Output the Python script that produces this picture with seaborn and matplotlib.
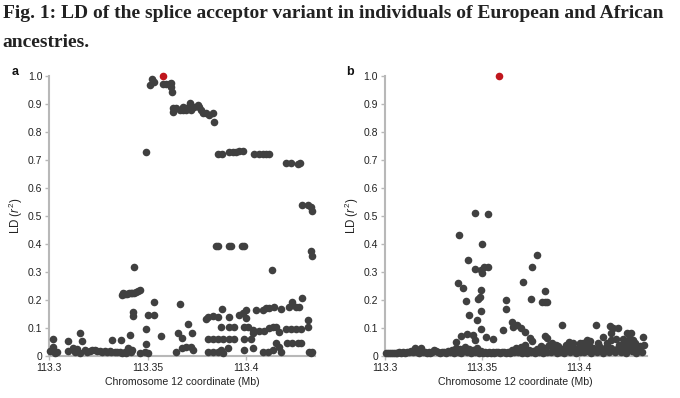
import matplotlib
matplotlib.use("Agg")
import matplotlib.pyplot as plt
import seaborn as sns
import pandas as pd

# ---------------- data ----------------
# panel a (European ancestry)
eur_pos = [
    113.3003, 113.3012, 113.3020, 113.3020, 113.3029, 113.3037,
    113.3096, 113.3096, 113.3122, 113.3139, 113.3155, 113.3164, 113.3155, 113.3181,
    113.3206, 113.3231, 113.3257, 113.3282, 113.3307, 113.3321, 113.3333, 113.3358,
    113.3367, 113.3383, 113.3400, 113.3409, 113.3417,
    113.3130, 113.3190, 113.3215, 113.3245, 113.3270, 113.3295, 113.3315, 113.3345,
    113.3370, 113.3390, 113.3405, 113.3420,
    113.3368, 113.3377, 113.3386, 113.3395, 113.3404, 113.3413, 113.3422, 113.3431,
    113.3440, 113.3450, 113.3462,
    113.3431, 113.3426, 113.3424,
    113.3459, 113.3485, 113.3493, 113.3493, 113.3502,
    113.3502, 113.3530, 113.3530, 113.3568,
    113.3645, 113.3654, 113.3666, 113.3676, 113.3704, 113.3676, 113.3696, 113.3721,
    113.3726, 113.3730,
    113.3797, 113.3806, 113.3831, 113.3856, 113.3873, 113.3882, 113.3907,
    113.3806, 113.3831, 113.3856, 113.3878, 113.3916,
    113.3806, 113.3831, 113.3856, 113.3882, 113.3916, 113.3941,
    113.3873, 113.3916, 113.3941,
    113.3848, 113.3858, 113.3912, 113.3925, 113.3980, 113.3990,
    113.3966, 113.3983, 113.4000,
    113.3992, 113.4008, 113.3992, 113.4025, 113.3990, 113.4034, 113.4000,
    113.4034, 113.4034,
    113.4051, 113.4084, 113.4101, 113.4118, 113.4144,
    113.4068, 113.4093, 113.4118, 113.4135, 113.4152, 113.4169,
    113.4084, 113.4110, 113.4135, 113.4152, 113.4169, 113.4177,
    113.4132, 113.4177,
    113.4203, 113.4228, 113.4253, 113.4279,
    113.4211, 113.4236, 113.4262, 113.4279,
    113.4236, 113.4220, 113.4253, 113.4270, 113.4287,
    113.4313, 113.4313, 113.4321, 113.4329, 113.4338,
    113.4329, 113.4334,
    # upper part
    113.3493,
    113.3510, 113.3524, 113.3530,
    113.3577, 113.3594, 113.3611, 113.3619, 113.3619, 113.3625,
    113.3628, 113.3628, 113.3645, 113.3662, 113.3679, 113.3696, 113.3713, 113.3721,
    113.3738, 113.3755, 113.3763, 113.3772, 113.3780, 113.3797, 113.3814, 113.3831,
    113.3839, 113.3696, 113.3679,
    113.3856, 113.3878, 113.3915, 113.3932, 113.3949, 113.3966, 113.3983,
    113.4042, 113.4068, 113.4084, 113.4101, 113.4118,
    113.4203, 113.4228, 113.4262, 113.4275,
    113.4287, 113.4313, 113.4329, 113.4338,
]
eur_r2 = [
    0.018, 0.021, 0.060, 0.033, 0.010, 0.015,
    0.018, 0.054, 0.027, 0.024, 0.081, 0.054, 0.010, 0.021,
    0.018, 0.021, 0.018, 0.018, 0.018, 0.057, 0.015, 0.015,
    0.057, 0.015, 0.030, 0.075, 0.015,
    0.015, 0.015, 0.020, 0.017, 0.015, 0.016, 0.014, 0.013,
    0.012, 0.012, 0.018, 0.022,
    0.218, 0.224, 0.221, 0.222, 0.223, 0.224, 0.225, 0.225,
    0.228, 0.232, 0.236,
    0.316, 0.158, 0.143,
    0.012, 0.015, 0.095, 0.043, 0.010,
    0.146, 0.146, 0.194, 0.070,
    0.015, 0.083, 0.186, 0.063, 0.113, 0.027, 0.033, 0.031,
    0.083, 0.021,
    0.132, 0.015, 0.015, 0.015, 0.021, 0.010, 0.027,
    0.140, 0.143, 0.140, 0.167, 0.140,
    0.060, 0.060, 0.061, 0.061, 0.061, 0.061,
    0.102, 0.102, 0.102,
    0.393, 0.393, 0.393, 0.393, 0.393, 0.393,
    0.146, 0.152, 0.164,
    0.102, 0.102, 0.061, 0.061, 0.021, 0.030, 0.135,
    0.093, 0.081,
    0.164, 0.164, 0.170, 0.170, 0.174,
    0.090, 0.090, 0.100, 0.105, 0.105, 0.087,
    0.015, 0.015, 0.021, 0.045, 0.033, 0.015,
    0.307, 0.167,
    0.098, 0.098, 0.098, 0.098,
    0.045, 0.045, 0.045, 0.045,
    0.194, 0.174, 0.174, 0.174, 0.206,
    0.129, 0.105, 0.015, 0.010, 0.015,
    0.376, 0.357,
    0.726,
    0.967, 0.987, 0.979,
    0.970, 0.970, 0.970, 0.973, 0.958, 0.943,
    0.883, 0.869, 0.883, 0.877, 0.877, 0.877, 0.904, 0.877,
    0.888, 0.895, 0.888, 0.877, 0.865, 0.865, 0.860, 0.865,
    0.833, 0.883, 0.887,
    0.719, 0.722, 0.729, 0.729, 0.726, 0.731, 0.732,
    0.720, 0.722, 0.722, 0.722, 0.722,
    0.690, 0.690, 0.684, 0.690,
    0.540, 0.538, 0.532, 0.518,
]

# panel b (African ancestry)
afr_pos = [
    113.3464, 113.3534,
    113.3383, 113.3503,
    113.3430, 113.3464, 113.3498, 113.3510, 113.3533,
    113.3378, 113.3404, 113.3418, 113.3433, 113.3473, 113.3481, 113.3490, 113.3498,
    113.3498, 113.3498, 113.3503,
    113.3369, 113.3395, 113.3421, 113.3455, 113.3464, 113.3524, 113.3558,
    113.3610, 113.3627, 113.3624, 113.3653, 113.3662, 113.3679, 113.3704, 113.3722,
    113.3747, 113.3761, 113.3704,
    113.3710, 113.3761, 113.3782, 113.3751, 113.3808, 113.3825, 113.3837, 113.3825,
    113.3825, 113.3837,
    113.3911, 113.4088,
    113.4160, 113.4177, 113.4203, 113.4165, 113.4246, 113.4271, 113.4280, 113.4332,
    113.4335, 113.4168,
    113.4125, 113.4040, 113.4005, 113.3971, 113.3936,
    113.3722, 113.3860, 113.3880, 113.3950, 113.4020, 113.4060, 113.4100, 113.4190,
    113.4230, 113.4260, 113.4290,
    # baseline
    113.3005, 113.3015, 113.3025, 113.3035, 113.3045, 113.3055, 113.3065, 113.3075,
    113.3085, 113.3095, 113.3105, 113.3115, 113.3125, 113.3135, 113.3145, 113.3155,
    113.3165, 113.3175, 113.3185, 113.3195, 113.3205, 113.3215, 113.3225, 113.3235,
    113.3245, 113.3255, 113.3265, 113.3275, 113.3285, 113.3295, 113.3305, 113.3315,
    113.3325, 113.3335, 113.3345, 113.3355, 113.3365, 113.3375, 113.3385, 113.3395,
    113.3405, 113.3415, 113.3425, 113.3435, 113.3445, 113.3455, 113.3465, 113.3475,
    113.3485, 113.3495, 113.3505, 113.3515, 113.3525, 113.3535, 113.3545, 113.3555,
    113.3565, 113.3575, 113.3585, 113.3595, 113.3605, 113.3615, 113.3625, 113.3635,
    113.3645, 113.3655, 113.3665, 113.3675, 113.3685, 113.3695, 113.3705, 113.3715,
    113.3725, 113.3735, 113.3745, 113.3755, 113.3765, 113.3775, 113.3785, 113.3795,
    113.3805, 113.3815, 113.3825, 113.3835, 113.3845, 113.3855, 113.3865, 113.3875,
    113.3885, 113.3895, 113.3905, 113.3915, 113.3925, 113.3935, 113.3945, 113.3955,
    113.3965, 113.3975, 113.3985, 113.3995, 113.4005, 113.4015, 113.4025, 113.4035,
    113.4045, 113.4055, 113.4065, 113.4075, 113.4085, 113.4095, 113.4105, 113.4115,
    113.4125, 113.4135, 113.4145, 113.4155, 113.4165, 113.4175, 113.4185, 113.4195,
    113.4205, 113.4215, 113.4225, 113.4235, 113.4245, 113.4255, 113.4265, 113.4275,
    113.4285, 113.4295, 113.4305, 113.4315, 113.4325,
]
afr_r2 = [
    0.511, 0.506,
    0.432, 0.400,
    0.343, 0.310, 0.305, 0.317, 0.317,
    0.260, 0.242, 0.196, 0.146, 0.129, 0.205, 0.212, 0.236,
    0.162, 0.095, 0.295,
    0.051, 0.071, 0.077, 0.075, 0.057, 0.069, 0.061,
    0.093, 0.200, 0.167, 0.123, 0.105, 0.110, 0.099, 0.087,
    0.063, 0.055, 0.033,
    0.263, 0.319, 0.361, 0.204, 0.194, 0.194, 0.194, 0.233,
    0.071, 0.063,
    0.111, 0.111,
    0.107, 0.099, 0.099, 0.081, 0.081, 0.081, 0.057, 0.069,
    0.038, 0.057,
    0.067, 0.057, 0.045, 0.045, 0.040,
    0.040, 0.045, 0.040, 0.050, 0.048, 0.055, 0.045, 0.062,
    0.060, 0.060, 0.045,
    0.010, 0.012, 0.009, 0.011, 0.010, 0.012, 0.009, 0.013,
    0.011, 0.014, 0.012, 0.016, 0.013, 0.018, 0.015, 0.030,
    0.014, 0.012, 0.028, 0.015, 0.013, 0.011, 0.014, 0.012,
    0.016, 0.022, 0.018, 0.013, 0.011, 0.015, 0.013, 0.012,
    0.019, 0.014, 0.022, 0.012, 0.030, 0.015, 0.026, 0.010,
    0.018, 0.033, 0.013, 0.025, 0.011, 0.020, 0.014, 0.030,
    0.012, 0.018, 0.010, 0.016, 0.012, 0.014, 0.011, 0.015,
    0.012, 0.016, 0.013, 0.011, 0.014, 0.015, 0.012, 0.013,
    0.011, 0.020, 0.014, 0.030, 0.013, 0.018, 0.011, 0.024,
    0.015, 0.012, 0.020, 0.013, 0.017, 0.012, 0.026, 0.014,
    0.035, 0.012, 0.028, 0.015, 0.040, 0.013, 0.030, 0.018,
    0.012, 0.035, 0.015, 0.025, 0.012, 0.020, 0.030, 0.014,
    0.038, 0.018, 0.012, 0.028, 0.015, 0.035, 0.013, 0.025,
    0.018, 0.040, 0.012, 0.030, 0.020, 0.014, 0.035, 0.025,
    0.012, 0.030, 0.045, 0.015, 0.030, 0.020, 0.013, 0.025,
    0.040, 0.015, 0.030, 0.045, 0.012, 0.028, 0.045, 0.018,
    0.030, 0.012, 0.020, 0.035, 0.015,
]

# splice acceptor variant (index SNP)
lead_pos = [113.3577, 113.3586]
lead_r2 = [1.0, 1.0]

x_ticks = [113.3, 113.35, 113.4]
x_tick_labels = ["113.3", "113.35", "113.4"]
y_ticks = [0, 0.1, 0.2, 0.3, 0.4, 0.5, 0.6, 0.7, 0.8, 0.9, 1.0]
y_tick_labels = ["0", "0.1", "0.2", "0.3", "0.4", "0.5", "0.6", "0.7", "0.8", "0.9", "1.0"]
panel_letters = ["a", "b"]
title_lines = ["Fig. 1: LD of the splice acceptor variant in individuals of European and African",
               "ancestries."]

# ---------------- style ----------------
sns.set_theme(style="white")
plt.rcParams["font.family"] = ["Liberation Sans", "DejaVu Sans"]
plt.rcParams["mathtext.fontset"] = "custom"
plt.rcParams["mathtext.rm"] = "Liberation Sans"
plt.rcParams["mathtext.it"] = "Liberation Sans:italic"

DOT = "#404040"
RED = "#c0161d"
SPINE = "#b8b8b8"

fig = plt.figure(figsize=(6.8, 3.98), dpi=100)
ax_a = fig.add_axes([0.0725, 0.1055, 0.3905, 0.7045])
ax_b = fig.add_axes([0.566, 0.1055, 0.385, 0.7045])

df_a = pd.DataFrame({"pos": eur_pos, "r2": eur_r2})
df_b = pd.DataFrame({"pos": afr_pos, "r2": afr_r2})

for ax, df, lp, lr in [(ax_a, df_a, lead_pos[0], lead_r2[0]),
                       (ax_b, df_b, lead_pos[1], lead_r2[1])]:
    sns.scatterplot(data=df, x="pos", y="r2", ax=ax, color=DOT, s=30,
                    linewidth=0, clip_on=False, zorder=3)
    sns.scatterplot(x=[lp], y=[lr], ax=ax, color=RED, s=30, linewidth=0,
                    clip_on=False, zorder=4)
    ax.set_xlim(113.3, 113.435)
    ax.set_ylim(0, 1.0)
    ax.set_xticks(x_ticks)
    ax.set_xticklabels(x_tick_labels)
    ax.set_yticks(y_ticks)
    ax.set_yticklabels(y_tick_labels)
    for side in ["top", "right"]:
        ax.spines[side].set_visible(False)
    for side in ["left", "bottom"]:
        ax.spines[side].set_color(SPINE)
        ax.spines[side].set_linewidth(1.5)
    ax.tick_params(axis="both", which="both", length=3, width=1, color=SPINE,
                   labelsize=7.5, labelcolor="#222222", pad=2, left=True, bottom=True)
    ax.set_xlabel("Chromosome 12 coordinate (Mb)", fontsize=7.6, color="#222222", labelpad=3)
    ax.set_ylabel(r"LD ($\mathit{r}^2$)", fontsize=8.3, color="#222222", labelpad=2)
    ax.set_facecolor("white")

fig.text(12 / 680, 1 - 72 / 398, panel_letters[0], fontsize=9, fontweight="bold",
         ha="left", va="center", color="#111111")
fig.text(346 / 680, 1 - 72 / 398, panel_letters[1], fontsize=9, fontweight="bold",
         ha="left", va="center", color="#111111")

for line, base_px in zip(title_lines, [18, 47]):
    fig.text(0.004, 1 - base_px / 398, line, fontsize=14, fontweight="bold", ha="left",
             va="baseline", family=["Liberation Serif", "DejaVu Serif"], color="#222222")

fig.savefig("out.png", dpi=100, facecolor="white")
